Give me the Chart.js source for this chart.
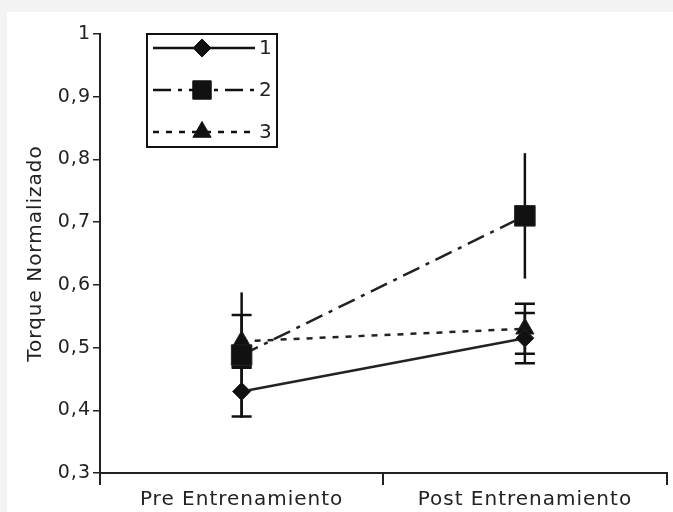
<!DOCTYPE html>
<html>
<head>
<meta charset="utf-8">
<script src="https://cdn.jsdelivr.net/npm/chart.js@4/dist/chart.umd.min.js"></script>
<style>
  html, body { margin: 0; padding: 0; background: #f3f3f3; overflow: hidden; }
  #wrap { position: absolute; left: 7px; top: 12px; width: 666px; height: 500px; background: #fff; overflow: hidden; }
</style>
</head>
<body>
<div id="wrap"><canvas id="ov" width="675" height="500"></canvas></div>
<script>
// categories + series
let categories = ['Pre Entrenamiento', 'Post Entrenamiento'];
let serie1 = [0.43, 0.515];
let serie2 = [0.488, 0.71];
let serie3 = [0.51, 0.53];
// error bar half-lengths
let err1 = [0.04, 0.04];
let err2 = [0.1, 0.1];
let err3 = [0.042, 0.04];
let yTicks = [0.3, 0.4, 0.5, 0.6, 0.7, 0.8, 0.9, 1];

const FONT = 'DejaVu Sans';

// draws the vertical error bars under the markers
const errorBars = {
  id: 'errorBars',
  beforeDatasetsDraw(chart) {
    const ctx = chart.ctx;
    const x = chart.scales.x, y = chart.scales.y;
    chart.data.datasets.forEach(ds => {
      ds.errors.forEach((e, j) => {
        const px = x.getPixelForValue(j);
        const top = y.getPixelForValue(ds.data[j] + e);
        const bot = y.getPixelForValue(ds.data[j] - e);
        ctx.save();
        ctx.strokeStyle = '#111';
        ctx.lineWidth = 2.5;
        ctx.beginPath();
        ctx.moveTo(px, top);
        ctx.lineTo(px, bot);
        if (ds.caps) {
          ctx.moveTo(px - 10, top); ctx.lineTo(px + 10, top);
          ctx.moveTo(px - 10, bot); ctx.lineTo(px + 10, bot);
        }
        ctx.stroke();
        ctx.restore();
      });
    });
  }
};

// boxed legend with line sample + marker
const boxLegend = {
  id: 'boxLegend',
  beforeDraw(chart) {
    chart.ctx.letterSpacing = '1px';
  },
  afterDraw(chart) {
    const ctx = chart.ctx;
    const bx = 140, by = 22, bw = 130, bh = 113;
    ctx.save();
    ctx.strokeStyle = '#111';
    ctx.lineWidth = 2;
    ctx.strokeRect(bx, by, bw, bh);
    chart.data.datasets.forEach((ds, i) => {
      const ry = by + 14 + i * 42;
      ctx.setLineDash(ds.borderDash || []);
      ctx.lineWidth = 2.5;
      ctx.beginPath();
      ctx.moveTo(146, ry);
      ctx.lineTo(248, ry);
      ctx.stroke();
      ctx.setLineDash([]);
      ctx.fillStyle = '#111';
      ctx.lineWidth = 1;
      Chart.helpers.drawPoint(ctx, {
        pointStyle: ds.pointStyle, radius: Math.min(ds.pointRadius, 13), rotation: 0, borderWidth: 1
      }, 195, ry);
      ctx.fillStyle = '#222';
      ctx.font = '20px "' + FONT + '"';
      ctx.textBaseline = 'middle';
      ctx.textAlign = 'left';
      ctx.fillText(ds.label, 252, ry + 1);
    });
    ctx.restore();
  }
};

let ctx = document.getElementById('ov').getContext('2d');
let myChart = new Chart(ctx, {
  type: 'line',
  data: {
    labels: categories,
    datasets: [
      {
        label: '1', data: serie1, errors: err1, caps: true,
        borderColor: '#222', backgroundColor: '#111', borderWidth: 2.5,
        pointStyle: 'rectRot', pointRadius: 9, pointBorderWidth: 1, tension: 0, fill: false
      },
      {
        label: '2', data: serie2, errors: err2, caps: false,
        borderColor: '#222', backgroundColor: '#111', borderWidth: 2.5, borderDash: [18, 7, 4, 7],
        pointStyle: 'rect', pointRadius: 14.5, pointBorderWidth: 1, tension: 0, fill: false
      },
      {
        label: '3', data: serie3, errors: err3, caps: true,
        borderColor: '#222', backgroundColor: '#111', borderWidth: 2.5, borderDash: [6, 7],
        pointStyle: 'triangle', pointRadius: 10.5, pointBorderWidth: 1, tension: 0, fill: false
      }
    ]
  },
  options: {
    responsive: false,
    animation: false,
    layout: { padding: { left: 0, top: 22, right: 5, bottom: 0 } },
    plugins: {
      legend: { display: false },
      tooltip: { enabled: false }
    },
    scales: {
      x: {
        type: 'category',
        offset: true,
        afterFit(scale) { scale.height = 39; },
        border: { display: true, color: '#222', width: 2 },
        grid: { offset: true, drawOnChartArea: false, drawTicks: true, tickLength: 12, color: '#222', lineWidth: 2 },
        ticks: { color: '#222', padding: 3, maxRotation: 0, font: { family: FONT, size: 20 } }
      },
      y: {
        min: 0.3, max: 1,
        afterFit(scale) { scale.width = 93; },
        afterBuildTicks(scale) { scale.ticks = yTicks.map(v => ({ value: v })); },
        border: { display: true, color: '#222', width: 2 },
        grid: { drawOnChartArea: false, drawTicks: true, tickLength: 7, color: '#222', lineWidth: 1.5 },
        ticks: {
          color: '#222', padding: 2, font: { family: FONT, size: 19 },
          callback: v => Math.abs(v - 1) < 1e-9 ? '1' : v.toFixed(1).replace('.', ',')
        },
        title: {
          display: true, text: 'Torque Normalizado', color: '#222',
          font: { family: FONT, size: 20 }, padding: { top: 17, bottom: 0 }
        }
      }
    }
  },
  plugins: [errorBars, boxLegend]
});
</script>
</body>
</html>
